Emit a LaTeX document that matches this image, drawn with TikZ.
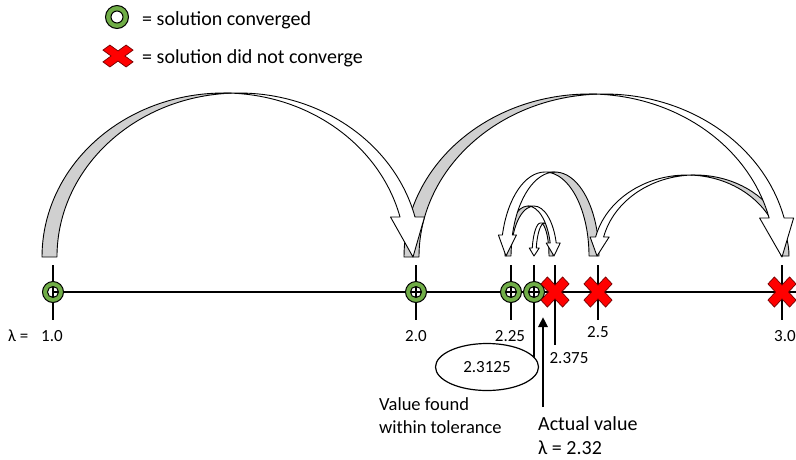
\documentclass[tikz,border=0pt]{standalone}
\usepackage{fontspec}
\setmainfont{Carlito}
\usetikzlibrary{arrows.meta,shapes.geometric}
\definecolor{okgreen}{RGB}{112,173,71}
\definecolor{backgray}{RGB}{208,208,208}
\definecolor{nored}{RGB}{255,0,0}

% curved (PowerPoint-like) arrow: #1,#2 outer foot corner, #3 direction (1 right, -1 left),
% #4 x radius, #5 band thickness, #6 height, #7 head length, #8 head width
\newcommand{\curvedarrow}[8]{%
  \begin{scope}[shift={(#1,#2)}, xscale=#3]
    \pgfmathsetmacro{\cwR}{#4}%
    \pgfmathsetmacro{\cth}{#5}%
    \pgfmathsetmacro{\ch}{#6}%
    \pgfmathsetmacro{\cah}{#7}%
    \pgfmathsetmacro{\caw}{#8}%
    \pgfmathsetmacro{\ctA}{180+acos(-\cth/(2*\cwR))}%
    \pgfmathsetmacro{\csB}{180+acos(\cth/(2*\cwR))}%
    \pgfmathsetmacro{\cphi}{360-asin(\cah/\ch)}%
    \pgfmathsetmacro{\cxf}{\cwR+\cwR*cos(\cphi)}%
    \pgfmathsetmacro{\cdh}{(\caw-\cth)/2}%
    \pgfmathsetmacro{\cxtip}{2*\cwR+\cth/2}%
    \filldraw[backband] (0,0)
      arc[start angle=180, end angle=\ctA, x radius=\cwR, y radius=\ch]
      arc[start angle=\csB, end angle=180, x radius=\cwR, y radius=\ch] -- cycle;
    \filldraw[frontband] (\cxtip,0) -- (\cxf-\cdh,-\cah) -- (\cxf,-\cah)
      arc[start angle=\cphi, end angle=270, x radius=\cwR, y radius=\ch]
      -- (\cwR+\cth,-\ch)
      arc[start angle=270, end angle=\cphi, x radius=\cwR, y radius=\ch]
      -- (\cxf+\cth+\cdh,-\cah) -- cycle;
  \end{scope}}

% green ring marker: #1 centre, #2 outer radius, #3 inner radius
\newcommand{\okmark}[3]{%
  \fill[okgreen, even odd rule] (#1) circle[radius=#2pt] (#1) circle[radius=#3pt];
  \draw[line width=1pt] (#1) circle[radius=#2pt] (#1) circle[radius=#3pt];}

% red cross marker: #1 centre, #2 xscale, #3 yscale
\newcommand{\nomark}[3]{%
  \begin{scope}[shift={(#1)}, xscale=#2, yscale=#3, rotate=45]
    \filldraw[fill=nored, draw=black!55!red, line width=0.7pt, line join=miter]
      (4.6,4.6) -- (15.3,4.6) -- (15.3,-4.6) -- (4.6,-4.6) -- (4.6,-15.3) -- (-4.6,-15.3)
      -- (-4.6,-4.6) -- (-15.3,-4.6) -- (-15.3,4.6) -- (-4.6,4.6) -- (-4.6,15.3) -- (4.6,15.3) -- cycle;
  \end{scope}}

\tikzset{
  arrowline/.style={line width=0.9pt, line join=round},
  backband/.style={arrowline, fill=backgray, draw=black},
  frontband/.style={arrowline, fill=white, draw=black},
  tickline/.style={line width=2.7pt},
  axisline/.style={line width=2pt},
  numlabel/.style={font=\fontsize{17}{20}\selectfont, anchor=base, inner sep=0pt},
  bigtext/.style={font=\fontsize{20}{24}\selectfont, anchor=base west, inner sep=0pt},
  midtext/.style={font=\fontsize{18.5}{22}\selectfont, anchor=base west, inner sep=0pt},
}

\begin{document}
\begin{tikzpicture}[x=1pt, y=-1pt]
\useasboundingbox (0,0) rectangle (796,459);

% legend
\coordinate (legok) at (117,17);
\coordinate (legno) at (118,56);
\okmark{legok}{11.5}{6}
\nomark{legno}{1.07}{0.78}
\node[bigtext] (leg1) at (142,25) {= solution converged};
\node[bigtext] (leg2) at (142,63) {= solution did not converge};

% curved arrows (drawn from last to first so heads lie over feet)
\curvedarrow{553}{256}{-1}{8.5}{4}{33}{8}{10}
\curvedarrow{505}{256}{1}{23}{6}{50}{13}{14}
\curvedarrow{599}{256}{-1}{44}{10}{84}{21}{18}
\curvedarrow{789}{256}{-1}{94}{8}{81}{19}{19}
\curvedarrow{404}{257}{1}{185.25}{15}{163}{39}{34}
\curvedarrow{42}{257}{1}{181.75}{15}{164}{40}{34}

% axis
\coordinate (p1) at (53,292);
\coordinate (p2) at (416,292);
\coordinate (p3) at (511,292);
\coordinate (p4) at (534,292);
\coordinate (p5) at (555,292);
\coordinate (p6) at (598,292);
\coordinate (p7) at (782,292);
\coordinate (pend) at (796,292);
\draw[axisline] (p1) -- (pend);
\foreach \x in {53,416,511,598,782} {\draw[tickline] (\x,265) -- (\x,320);}
\draw[tickline] (534,265) -- (534,362);
\draw[tickline] (555,265) -- (555,345);

% ellipse label
\node[draw, ellipse, fill=white, line width=1.2pt, minimum width=103pt, minimum height=47pt,
      inner sep=0pt, font=\fontsize{17}{20}\selectfont] (ell) at (487,367) {2.3125};

% markers
\okmark{p1}{10.5}{5.5}
\okmark{p2}{10.5}{5.5}
\okmark{p3}{10.5}{5.5}
\okmark{p4}{10.5}{5.5}
\nomark{p5}{1}{1.07}
\nomark{p6}{1}{1.07}
\nomark{p7}{1}{1.07}

% actual value arrow
\coordinate (avs) at (543,407);
\coordinate (ave) at (543,317);
\draw[line width=2.5pt, -{Triangle[length=10pt,width=9pt]}] (avs) -- (ave);

% labels
\node[numlabel, anchor=base west] (llam) at (8,341) {λ =};
\node[numlabel] (l1) at (52,341) {1.0};
\node[numlabel] (l2) at (416,341) {2.0};
\node[numlabel] (l3) at (510,341) {2.25};
\node[numlabel] (l6) at (598,337) {2.5};
\node[numlabel] (l7) at (785,341) {3.0};
\node[numlabel] (l5) at (569,363) {2.375};
\node[midtext] (vf1) at (379,410) {Value found};
\node[midtext] (vf2) at (379,433) {within tolerance};
\node[bigtext] (av1) at (538,430) {Actual value};
\node[bigtext] (av2) at (538,454) {λ = 2.32};
\end{tikzpicture}
\end{document}
